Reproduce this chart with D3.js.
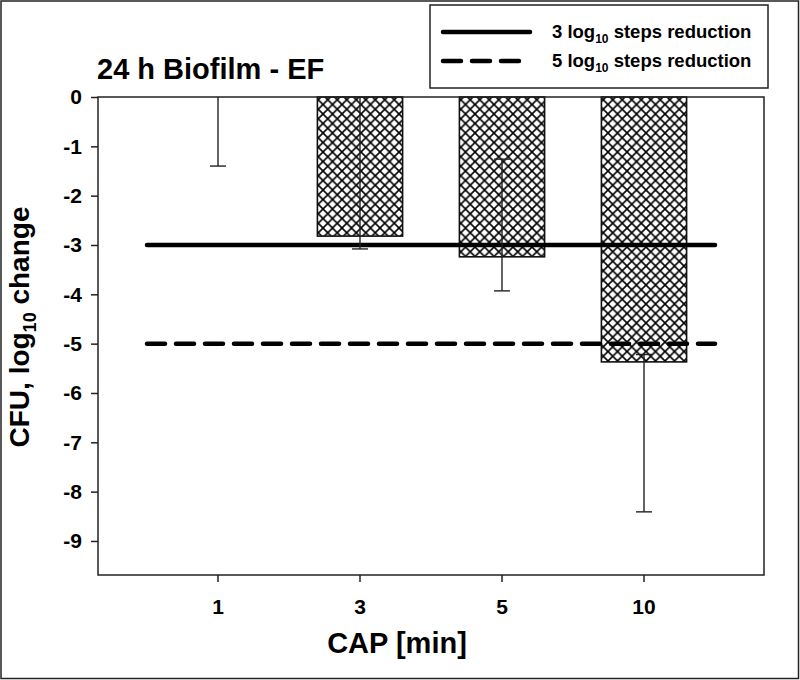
<!DOCTYPE html>
<html>
<head>
<meta charset="utf-8">
<script src="https://cdn.jsdelivr.net/npm/d3@7"></script>
<style>
  body { margin: 0; background: #fff; }
  svg { display: block; font-family: "Liberation Sans", Arial, sans-serif; font-weight: bold; }
</style>
</head>
<body>
<div id="container"></div>
<script>
/* CONSTANTS AND GLOBALS */
const width = 800,
  height = 680,
  margin = { top: 97, bottom: 105, left: 98, right: 36 };

// data
const categories = ["1", "3", "5", "10"];
const means = [0, -2.82, -3.24, -5.37];
const errUpper = [0, 0, -1.26, -5.22];
const errLower = [-1.40, -3.08, -3.93, -8.41];
const yTicks = [0, -1, -2, -3, -4, -5, -6, -7, -8, -9];
const refValues = [-3, -5];
const refLabels = ["3", "5"];

const svg = d3.select("#container")
  .append("svg")
  .attr("width", width)
  .attr("height", height);

// outer frame
svg.append("rect")
  .attr("x", 1).attr("y", 1)
  .attr("width", width - 2.5).attr("height", height - 2.5)
  .attr("fill", "none").attr("stroke", "#222").attr("stroke-width", 1.5);

// crosshatch pattern
const pat = svg.append("defs").append("pattern")
  .attr("id", "hatch")
  .attr("patternUnits", "userSpaceOnUse")
  .attr("width", 9.5).attr("height", 9.5);
pat.append("rect").attr("width", 9.5).attr("height", 9.5).attr("fill", "#fff");
pat.append("path")
  .attr("d", "M-1,-1L10.5,10.5M10.5,-1L-1,10.5")
  .attr("stroke", "#000").attr("stroke-width", 1.6);

/* SCALES */
const plotL = margin.left, plotR = width - margin.right;
const plotT = margin.top, plotB = height - margin.bottom;

const xScale = d3.scaleBand()
  .domain(categories)
  .range([plotL + 49, plotR - 49])
  .paddingInner(0.4)
  .paddingOuter(0.2);

const yScale = d3.scaleLinear()
  .domain([-9.69, 0])
  .range([plotB, plotT]);

// bars
svg.selectAll("rect.bar")
  .data(categories)
  .join("rect")
  .attr("class", "bar")
  .attr("x", d => xScale(d))
  .attr("y", yScale(0))
  .attr("width", xScale.bandwidth())
  .attr("height", (d, i) => yScale(means[i]) - yScale(0))
  .attr("fill", "url(#hatch)")
  .attr("stroke", (d, i) => means[i] === 0 ? "none" : "#111")
  .attr("stroke-width", 1.6);

// reference lines
const lineX0 = xScale.range()[0], lineX1 = xScale.range()[1];
svg.selectAll("line.ref")
  .data(refValues)
  .join("line")
  .attr("class", "ref")
  .attr("x1", lineX0).attr("x2", lineX1)
  .attr("y1", d => yScale(d)).attr("y2", d => yScale(d))
  .attr("stroke", "#000").attr("stroke-width", 4.5)
  .attr("stroke-linecap", "round")
  .attr("stroke-dasharray", (d, i) => i === 0 ? null : "18,11");

// error bars
const eb = svg.selectAll("g.err")
  .data(categories)
  .join("g")
  .attr("class", "err")
  .attr("stroke", "#222")
  .attr("stroke-width", 1.4);
const cx = d => xScale(d) + xScale.bandwidth() / 2;
eb.append("line")
  .attr("x1", cx).attr("x2", cx)
  .attr("y1", (d, i) => yScale(errUpper[i]))
  .attr("y2", (d, i) => yScale(errLower[i]));
eb.append("line")
  .attr("x1", d => cx(d) - 8).attr("x2", d => cx(d) + 8)
  .attr("y1", (d, i) => yScale(errLower[i]))
  .attr("y2", (d, i) => yScale(errLower[i]));
eb.filter((d, i) => errUpper[i] !== 0)
  .append("line")
  .attr("x1", d => cx(d) - 8).attr("x2", d => cx(d) + 8)
  .attr("y1", d => yScale(errUpper[categories.indexOf(d)]))
  .attr("y2", d => yScale(errUpper[categories.indexOf(d)]));

// plot frame
svg.append("rect")
  .attr("x", plotL).attr("y", plotT)
  .attr("width", plotR - plotL).attr("height", plotB - plotT)
  .attr("fill", "none").attr("stroke", "#222").attr("stroke-width", 1.5);

/* AXES */
const yAxis = d3.axisLeft(yScale)
  .tickValues(yTicks)
  .tickSize(7)
  .tickPadding(9)
  .tickFormat(d => String(d));
const gy = svg.append("g")
  .attr("transform", `translate(${plotL},0)`)
  .call(yAxis);
gy.select(".domain").remove();

const xAxis = d3.axisBottom(xScale)
  .tickSize(7)
  .tickPadding(17);
const gx = svg.append("g")
  .attr("transform", `translate(0,${plotB})`)
  .call(xAxis);
gx.select(".domain").remove();

svg.selectAll(".tick line").attr("stroke", "#222").attr("stroke-width", 1.5);
svg.selectAll(".tick text")
  .attr("fill", "#000")
  .style("font-family", "'Liberation Sans', Arial, sans-serif")
  .style("font-weight", "bold")
  .style("font-size", "21px");

// title
svg.append("text")
  .attr("x", 97).attr("y", 79)
  .style("font-size", "29px")
  .text("24 h Biofilm - EF");

// x title
svg.append("text")
  .attr("x", 397).attr("y", 653)
  .attr("text-anchor", "middle")
  .style("font-size", "29px")
  .text("CAP [min]");

// y title
const yt = svg.append("text")
  .attr("transform", "translate(29,327) rotate(-90)")
  .attr("text-anchor", "middle")
  .style("font-size", "28px");
yt.append("tspan").text("CFU, log");
yt.append("tspan").attr("dy", 7).style("font-size", "18px").text("10");
yt.append("tspan").attr("dy", -7).text(" change");

/* LEGEND */
const leg = svg.append("g");
leg.append("rect")
  .attr("x", 430).attr("y", 5)
  .attr("width", 338).attr("height", 83)
  .attr("fill", "#fff").attr("stroke", "#222").attr("stroke-width", 1.5);

const legY = [32, 61];
leg.selectAll("line")
  .data(refValues)
  .join("line")
  .attr("x1", 443).attr("x2", (d, i) => i === 0 ? 530 : 520)
  .attr("y1", (d, i) => legY[i]).attr("y2", (d, i) => legY[i])
  .attr("stroke", "#000").attr("stroke-width", 4.5)
  .attr("stroke-linecap", "round")
  .attr("stroke-dasharray", (d, i) => i === 0 ? null : "18,11");

const lt = leg.selectAll("text")
  .data(refLabels)
  .join("text")
  .attr("x", 552)
  .attr("y", (d, i) => legY[i] + 6)
  .style("font-size", "18.5px");
lt.append("tspan").text(d => d + " log");
lt.append("tspan").attr("dy", 5).style("font-size", "12px").text("10");
lt.append("tspan").attr("dy", -5).text(" steps reduction");
</script>
</body>
</html>
